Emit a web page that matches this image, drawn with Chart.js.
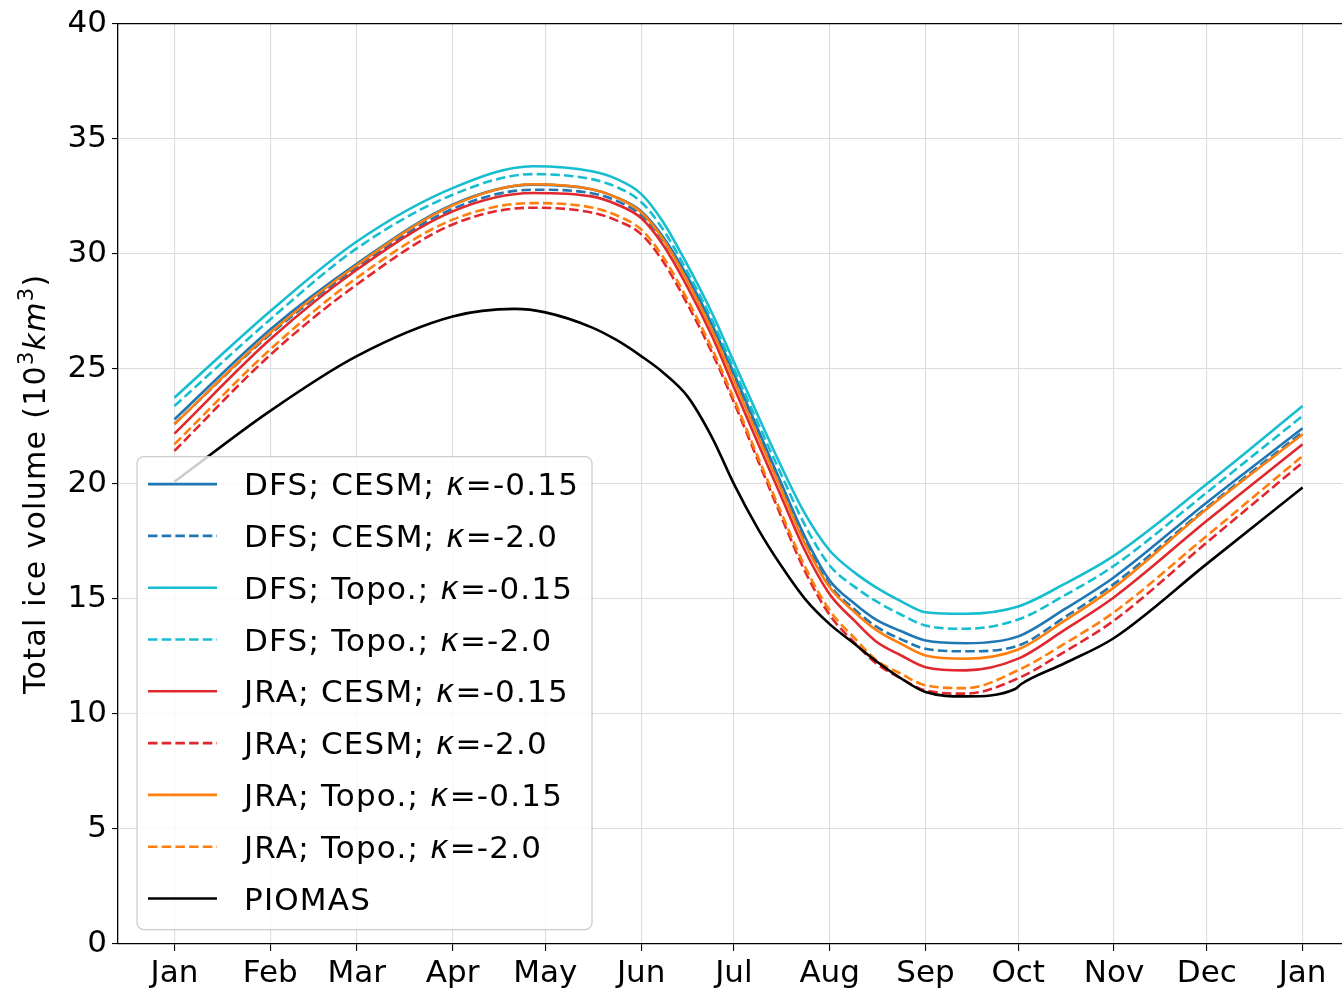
<!DOCTYPE html>
<html>
<head>
<meta charset="utf-8">
<script src="https://cdn.jsdelivr.net/npm/chart.js@4.4.1/dist/chart.umd.min.js"></script>
<style>
  html, body { margin: 0; padding: 0; background: #fff; overflow: hidden; }
  #wrap { width: 1362px; height: 991px; position: relative; }
</style>
</head>
<body>
<div id="wrap"><canvas id="ice"></canvas></div>
<script>
// day of year for the month ticks
var monthDays = [0, 31, 59, 90, 120, 151, 181, 212, 243, 273, 304, 334, 365];
var monthLabels = ['Jan', 'Feb', 'Mar', 'Apr', 'May', 'Jun', 'Jul', 'Aug', 'Sep', 'Oct', 'Nov', 'Dec', 'Jan'];

// sample days for the model runs
var runDays = [0, 31, 59, 90, 116, 135, 143, 151, 158, 166, 174, 181, 189, 196, 204, 212, 220, 227, 235, 243, 256, 273, 288, 304, 334, 365];
var dfsCesm015 = [22.8, 26.71, 29.56, 32.13, 33.0, 32.8, 32.45, 31.85, 30.75, 29.0, 26.9, 24.8, 22.3, 20.13, 17.7, 15.8, 14.8, 14.1, 13.6, 13.19, 13.07, 13.37, 14.55, 15.94, 19.19, 22.41];
var dfsCesm20 = [22.6, 26.5, 29.4, 31.95, 32.78, 32.63, 32.3, 31.68, 30.6, 28.85, 26.75, 24.65, 22.15, 20.0, 17.53, 15.6, 14.55, 13.8, 13.25, 12.83, 12.72, 12.97, 14.2, 15.65, 18.97, 22.25];
var dfsTopo015 = [23.74, 27.5, 30.53, 32.85, 33.8, 33.58, 33.25, 32.6, 31.4, 29.5, 27.4, 25.3, 22.9, 20.85, 18.7, 17.1, 16.15, 15.5, 14.9, 14.42, 14.35, 14.67, 15.65, 16.88, 19.99, 23.38];
var dfsTopo20 = [23.38, 27.14, 30.23, 32.56, 33.46, 33.24, 32.9, 32.25, 31.07, 29.2, 27.1, 25.0, 22.58, 20.5, 18.2, 16.45, 15.53, 14.9, 14.32, 13.84, 13.7, 14.1, 15.15, 16.44, 19.62, 22.95];
var jraCesm015 = [22.18, 26.28, 29.3, 31.84, 32.64, 32.49, 32.15, 31.55, 30.4, 28.55, 26.4, 24.2, 21.7, 19.55, 17.1, 15.2, 14.05, 13.15, 12.55, 12.03, 11.89, 12.4, 13.65, 15.07, 18.39, 21.72];
var jraCesm20 = [21.43, 25.6, 28.66, 31.27, 32.0, 31.79, 31.45, 30.85, 29.68, 27.8, 25.68, 23.55, 20.95, 18.68, 16.2, 14.3, 13.1, 12.2, 11.55, 11.02, 10.88, 11.55, 12.7, 14.06, 17.45, 20.92];
var jraTopo015 = [22.59, 26.56, 29.5, 32.1, 33.02, 32.8, 32.45, 31.8, 30.65, 28.8, 26.65, 24.5, 22.0, 19.85, 17.4, 15.5, 14.43, 13.65, 13.05, 12.54, 12.4, 12.8, 14.05, 15.5, 18.9, 22.15];
var jraTopo20 = [21.72, 25.84, 28.95, 31.48, 32.2, 32.01, 31.67, 31.05, 29.88, 28.0, 25.85, 23.7, 21.1, 18.85, 16.4, 14.5, 13.3, 12.35, 11.75, 11.24, 11.12, 11.9, 13.05, 14.42, 17.74, 21.21];

// PIOMAS has its own days (small jump at Oct)
var piomasDays = [0, 31, 59, 90, 110, 120, 135, 143, 151, 158, 166, 174, 181, 189, 196, 204, 212, 220, 227, 235, 243, 256, 272, 274, 288, 304, 334, 365];
var piomas = [20.09, 23.17, 25.55, 27.27, 27.6, 27.45, 26.8, 26.25, 25.55, 24.85, 23.8, 22.0, 20.0, 18.0, 16.5, 15.0, 13.9, 13.05, 12.3, 11.55, 10.95, 10.76, 11.08, 11.3, 12.2, 13.3, 16.52, 19.84];

var seriesLabels = ['DFS; CESM; κ=-0.15', 'DFS; CESM; κ=-2.0', 'DFS; Topo.; κ=-0.15', 'DFS; Topo.; κ=-2.0',
  'JRA; CESM; κ=-0.15', 'JRA; CESM; κ=-2.0', 'JRA; Topo.; κ=-0.15', 'JRA; Topo.; κ=-2.0', 'PIOMAS'];
var seriesData = [dfsCesm015, dfsCesm20, dfsTopo015, dfsTopo20, jraCesm015, jraCesm20, jraTopo015, jraTopo20, piomas];
var seriesColors = ['#1f77b4', '#1f77b4', '#17becf', '#17becf', '#e0282e', '#e0282e', '#ff7f0e', '#ff7f0e', '#000000'];
var dashed = [false, true, false, true, false, true, false, true, false];

var FONT = '"DejaVu Sans", sans-serif';

function points(days, vals) {
  var out = [];
  for (var i = 0; i < vals.length; i++) out.push({x: days[i], y: vals[i]});
  return out;
}

var datasets = seriesData.map(function (vals, i) {
  var days = (i === 8) ? piomasDays : runDays;
  return {
    label: seriesLabels[i],
    data: points(days, vals),
    borderColor: seriesColors[i],
    borderWidth: 2.6,
    borderDash: dashed[i] ? [9.5, 4.2] : [],
    pointRadius: 0,
    fill: false,
    cubicInterpolationMode: 'monotone',
    order: 8 - i
  };
});

// draw a list of [text, font, raise] pieces one after the other
function drawPieces(ctx, pieces, x, y) {
  pieces.forEach(function (p) {
    ctx.font = p[1];
    ctx.fillText(p[0], x, y - (p[2] || 0));
    x += ctx.measureText(p[0]).width;
  });
  return x;
}
function piecesWidth(ctx, pieces) {
  var w = 0;
  pieces.forEach(function (p) { ctx.font = p[1]; w += ctx.measureText(p[0]).width; });
  return w;
}

// top spine, y title and matplotlib style legend box
var frame = {
  id: 'frame',
  afterDatasetsDraw: function (chart) {
    var ctx = chart.ctx, a = chart.chartArea;
    ctx.save();
    ctx.strokeStyle = '#000';
    ctx.lineWidth = 1.3;
    ctx.beginPath();
    ctx.moveTo(a.left, a.top);
    ctx.lineTo(a.right, a.top);
    ctx.lineTo(a.right, a.bottom);
    ctx.stroke();

    // y axis title with superscripts
    var norm = '30px ' + FONT, ital = 'italic 30px ' + FONT, sup = '21px ' + FONT;
    var title = [['Total ice volume (', norm], ['10', norm], ['3', sup, 12], ['km', ital], ['3', sup, 12], [')', norm]];
    ctx.save();
    ctx.letterSpacing = '1.3px';
    ctx.fillStyle = '#000';
    ctx.textBaseline = 'alphabetic';
    ctx.translate(34, (a.top + a.bottom) / 2);
    ctx.rotate(-Math.PI / 2);
    drawPieces(ctx, title, -piecesWidth(ctx, title) / 2, 11);
    ctx.restore();

    var x0 = a.left + 19, y0 = a.top + 433, w = 455, h = 473;
    ctx.beginPath();
    ctx.roundRect(x0, y0, w, h, 7);
    ctx.fillStyle = 'rgba(255,255,255,0.8)';
    ctx.fill();
    ctx.strokeStyle = 'rgba(200,200,200,0.9)';
    ctx.lineWidth = 1.3;
    ctx.stroke();

    ctx.letterSpacing = '1.2px';
    chart.data.datasets.forEach(function (ds, i) {
      var yy = y0 + 27.5 + i * 51.8;
      ctx.beginPath();
      ctx.setLineDash(ds.borderDash);
      ctx.strokeStyle = ds.borderColor;
      ctx.lineWidth = ds.borderWidth;
      ctx.moveTo(x0 + 11, yy);
      ctx.lineTo(x0 + 80, yy);
      ctx.stroke();
      ctx.setLineDash([]);

      var parts = ds.label.split('κ');
      var pieces = [[parts[0], '31px ' + FONT]];
      if (parts.length > 1) {
        pieces.push(['κ', 'italic 31px ' + FONT]);
        pieces.push([parts[1], '31px ' + FONT]);
      }
      ctx.fillStyle = '#000';
      ctx.textBaseline = 'alphabetic';
      drawPieces(ctx, pieces, x0 + 107, yy + 11);
    });
    ctx.restore();
  }
};

new Chart(document.getElementById('ice'), {
  type: 'line',
  data: { datasets: datasets },
  plugins: [frame],
  options: {
    responsive: true,
    maintainAspectRatio: false,
    animation: false,
    layout: { padding: { top: 22, right: 3, left: 0, bottom: 0 } },
    plugins: { legend: { display: false }, tooltip: { enabled: false } },
    scales: {
      x: {
        type: 'linear',
        min: -18.25,
        max: 383.25,
        afterBuildTicks: function (scale) {
          scale.ticks = monthDays.map(function (d) { return {value: d}; });
        },
        afterFit: function (scale) { scale.height = 47; },
        ticks: {
          autoSkip: false,
          maxRotation: 0,
          padding: 4,
          color: '#000',
          font: { family: FONT, size: 31 },
          callback: function (v) { return monthLabels[monthDays.indexOf(v)]; }
        },
        grid: { color: '#dcdcdc', lineWidth: 1.1, tickColor: '#000', tickLength: 7 },
        border: { color: '#000', width: 1.3 }
      },
      y: {
        min: 0,
        max: 40,
        afterFit: function (scale) { scale.width = 118; },
        ticks: {
          stepSize: 5,
          padding: 5,
          color: '#000',
          font: { family: FONT, size: 31 }
        },
        grid: { color: '#dcdcdc', lineWidth: 1.1, tickColor: '#000', tickLength: 6 },
        border: { color: '#000', width: 1.3 }
      }
    }
  }
});
</script>
</body>
</html>
